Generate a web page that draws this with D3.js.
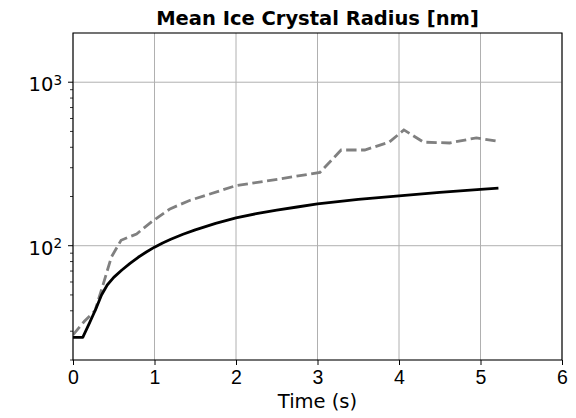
<html lang="en">
<head>
    <meta charset="UTF-8">
    <title>Mean Ice Crystal Radius</title>
    <script src="https://d3js.org/d3.v7.min.js"></script>
    <style>
        body { margin: 0; background: #fff; }
        svg { font-family: "DejaVu Sans", sans-serif; }
    </style>
</head>
<body>
    <script>
        // Data
        const solidTime = [0, 0.12, 0.2, 0.28, 0.35, 0.42, 0.5, 0.6, 0.7, 0.8, 0.9, 1.0, 1.1, 1.2, 1.35, 1.5, 1.75, 2.0, 2.25, 2.5, 2.75, 3.0, 3.5, 4.0, 4.5, 5.0, 5.22];
        const solidRadius = [27.5, 27.5, 33.5, 41, 50, 57.5, 64, 71, 78, 85, 91.5, 98, 104, 109.5, 117.5, 125, 137, 148, 157, 165, 172.5, 180, 192, 202, 212, 221, 225];

        const dashTime = [0, 0.14, 0.27, 0.37, 0.47, 0.59, 0.78, 0.98, 1.19, 1.43, 2.0, 2.54, 3.03, 3.29, 3.58, 3.88, 4.06, 4.3, 4.62, 4.95, 5.21];
        const dashRadius = [28.5, 34.5, 40, 58, 85, 108, 118, 142, 168, 189, 233, 256, 281, 385, 385, 430, 511, 430, 425, 457, 435];

        const xTicks = [0, 1, 2, 3, 4, 5, 6];
        const yMajor = [100, 1000];
        const yMinor = [20, 30, 40, 50, 60, 70, 80, 90, 200, 300, 400, 500, 600, 700, 800, 900];

        const width = 576, height = 418;
        const margin = { top: 33, right: 14, bottom: 58, left: 73 };

        const x = d3.scaleLinear()
            .domain([0, 6])
            .range([margin.left, width - margin.right]);

        const y = d3.scaleLog()
            .domain([20, 2000])
            .range([height - margin.bottom, margin.top]);

        const svg = d3.select("body")
            .append("svg")
            .attr("width", width)
            .attr("height", height);

        svg.append("defs").append("clipPath").attr("id", "plot")
            .append("rect")
            .attr("x", margin.left).attr("y", margin.top)
            .attr("width", x(6) - x(0)).attr("height", y(20) - y(2000));

        // grid
        svg.append("g")
            .selectAll("line")
            .data(xTicks)
            .join("line")
            .attr("x1", d => x(d)).attr("x2", d => x(d))
            .attr("y1", margin.top).attr("y2", height - margin.bottom)
            .attr("stroke", "#b0b0b0").attr("stroke-width", 1);

        svg.append("g")
            .selectAll("line")
            .data(yMajor)
            .join("line")
            .attr("x1", margin.left).attr("x2", width - margin.right)
            .attr("y1", d => y(d)).attr("y2", d => y(d))
            .attr("stroke", "#b0b0b0").attr("stroke-width", 1);

        // lines
        const line = d3.line()
            .x(d => x(d[0]))
            .y(d => y(d[1]));

        const plot = svg.append("g").attr("clip-path", "url(#plot)");

        plot.append("path")
            .datum(d3.zip(dashTime, dashRadius))
            .attr("d", line)
            .attr("fill", "none")
            .attr("stroke", "#808080")
            .attr("stroke-width", 2.8)
            .attr("stroke-dasharray", "10.4,4.5");

        plot.append("path")
            .datum(d3.zip(solidTime, solidRadius))
            .attr("d", line)
            .attr("fill", "none")
            .attr("stroke", "#000")
            .attr("stroke-width", 2.8)
            .attr("stroke-linejoin", "round");

        // x axis
        const xAxis = svg.append("g")
            .attr("transform", `translate(0,${height - margin.bottom})`)
            .call(d3.axisBottom(x).tickValues(xTicks).tickFormat(d3.format("d")).tickSize(5).tickPadding(5));
        xAxis.select(".domain").remove();
        xAxis.selectAll("text").style("font-size", "19.5px").attr("fill", "#000");
        xAxis.selectAll("line").attr("stroke", "#000");

        // y axis: major ticks with 10^n labels, minor ticks
        const yAxis = svg.append("g")
            .attr("transform", `translate(${margin.left},0)`);

        yAxis.selectAll(".minor")
            .data(yMinor)
            .join("line")
            .attr("class", "minor")
            .attr("x1", -3).attr("x2", 0)
            .attr("y1", d => y(d)).attr("y2", d => y(d))
            .attr("stroke", "#000").attr("stroke-width", 0.8);

        yAxis.selectAll(".major")
            .data(yMajor)
            .join("line")
            .attr("class", "major")
            .attr("x1", -5).attr("x2", 0)
            .attr("y1", d => y(d)).attr("y2", d => y(d))
            .attr("stroke", "#000").attr("stroke-width", 1);

        const yLabels = yAxis.selectAll(".lbl")
            .data(yMajor)
            .join("text")
            .attr("class", "lbl")
            .attr("x", -11)
            .attr("y", d => y(d) + 9)
            .attr("text-anchor", "end")
            .style("font-size", "19.5px")
            .attr("fill", "#000");
        yLabels.append("tspan").text("10");
        yLabels.append("tspan")
            .attr("dy", -6.5)
            .style("font-size", "13.5px")
            .text(d => Math.round(Math.log10(d)));

        // spines
        svg.append("rect")
            .attr("x", margin.left).attr("y", margin.top)
            .attr("width", x(6) - x(0)).attr("height", y(20) - y(2000))
            .attr("fill", "none").attr("stroke", "#000").attr("stroke-width", 1.1);

        // title and axis label
        svg.append("text")
            .attr("x", (x(0) + x(6)) / 2)
            .attr("y", 25)
            .attr("text-anchor", "middle")
            .style("font-size", "19.5px")
            .style("font-weight", "bold")
            .text("Mean Ice Crystal Radius [nm]");

        svg.append("text")
            .attr("x", (x(0) + x(6)) / 2)
            .attr("y", 408)
            .attr("text-anchor", "middle")
            .style("font-size", "19.5px")
            .text("Time (s)");
    </script>
</body>
</html>
